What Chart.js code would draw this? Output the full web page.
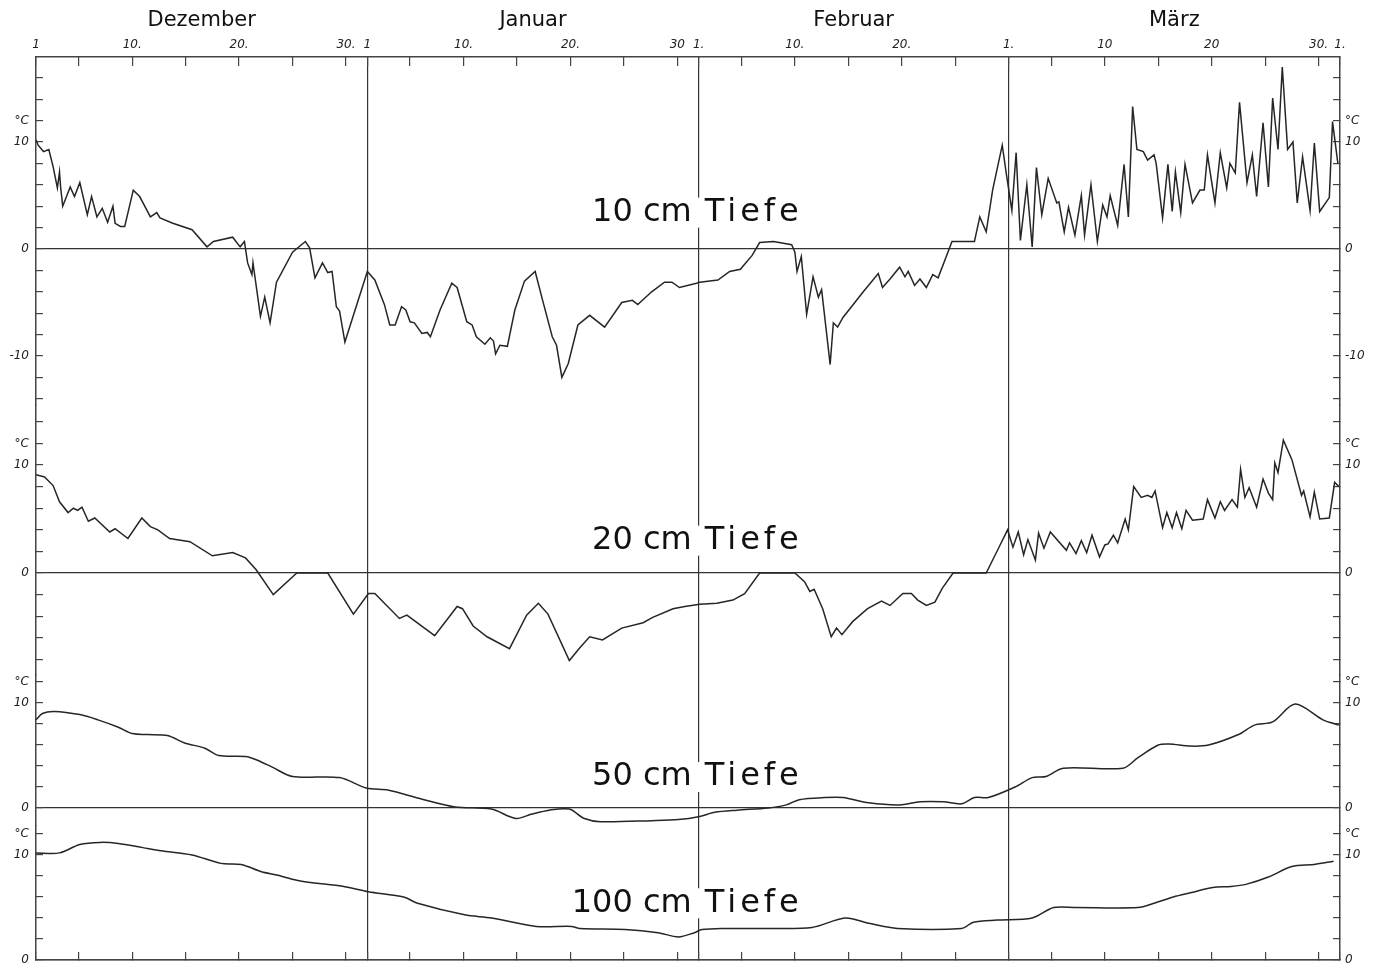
<!DOCTYPE html>
<html>
<head>
<meta charset="utf-8">
<script src="https://cdn.jsdelivr.net/npm/chart.js@4.4.0/dist/chart.umd.min.js"></script>
<style>
  html, body { margin: 0; background: #fff; }
  canvas { display: block; }
</style>
</head>
<body>
<canvas id="bodenChart" width="1373" height="968"></canvas>
<script>
// Bodentemperatur, Tage ab 1. Dezember (0 = 1.12., 122 = 1.4.), Werte in °C
const tiefe10 = [[0,10.2],[0.2,9.7],[0.7,9.1],[1.2,9.3],[1.6,7.7],[2.0,5.7],[2.2,7.2],[2.3,5.8],[2.5,4.0],[3.2,5.8],[3.6,4.9],[4.1,6.2],[4.8,3.2],[5.2,4.9],[5.7,3.0],[6.2,3.8],[6.7,2.5],[7.2,4.0],[7.4,2.4],[7.9,2.1],[8.3,2.1],[9.1,5.5],[9.7,4.9],[10.7,3.0],[11.3,3.4],[11.6,2.9],[12.8,2.4],[14.6,1.8],[16.0,0.2],[16.6,0.7],[18.4,1.1],[19.1,0.2],[19.5,0.7],[19.8,-1.3],[20.2,-2.4],[20.3,-1.3],[21.0,-6.3],[21.4,-4.5],[21.9,-6.9],[22.5,-3.1],[24.0,-0.3],[25.2,0.7],[25.6,0.1],[26.1,-2.7],[26.8,-1.3],[27.3,-2.2],[27.7,-2.1],[28.1,-5.4],[28.4,-5.8],[28.9,-8.7],[31.0,-2.1],[31.7,-2.9],[32.6,-5.2],[33.1,-7.1],[33.6,-7.1],[34.2,-5.4],[34.6,-5.7],[35.0,-6.8],[35.4,-6.9],[36.1,-7.9],[36.6,-7.8],[36.9,-8.2],[37.8,-5.7],[38.9,-3.2],[39.4,-3.6],[40.3,-6.8],[40.8,-7.1],[41.2,-8.2],[42.0,-8.9],[42.5,-8.3],[42.8,-8.6],[43.0,-9.8],[43.4,-9.0],[44.1,-9.1],[44.8,-5.7],[45.7,-3.0],[46.7,-2.1],[47.4,-4.8],[48.3,-8.2],[48.7,-9.0],[49.2,-12.0],[49.8,-10.7],[50.7,-7.1],[51.8,-6.2],[53.2,-7.3],[54.8,-5.0],[55.8,-4.8],[56.3,-5.2],[57.6,-4.0],[58.8,-3.1],[59.5,-3.1],[60.2,-3.6],[61.8,-3.2],[62.1,-3.1],[63.8,-2.9],[64.9,-2.1],[65.9,-1.9],[67.0,-0.6],[67.7,0.6],[69.0,0.7],[70.7,0.4],[71.0,-0.3],[71.2,-2.1],[71.6,-0.7],[72.1,-6.1],[72.7,-2.6],[73.2,-4.5],[73.5,-3.8],[74.3,-10.8],[74.6,-6.9],[75.0,-7.3],[75.5,-6.4],[77.4,-4.0],[78.8,-2.3],[79.2,-3.6],[79.9,-2.8],[80.8,-1.7],[81.3,-2.6],[81.6,-2.1],[82.2,-3.4],[82.7,-2.8],[83.3,-3.6],[83.9,-2.4],[84.4,-2.7],[85.7,0.7],[87.8,0.7],[88.3,3.0],[88.9,1.6],[89.5,5.5],[90.4,9.7],[90.8,6.9],[91.3,3.6],[91.7,9.0],[92.1,0.8],[92.7,6.0],[93.2,0.2],[93.6,7.6],[94.1,3.2],[94.7,6.6],[95.5,4.3],[95.7,4.4],[96.2,1.6],[96.6,3.9],[97.2,1.3],[97.8,5.0],[98.1,1.3],[98.7,6.0],[99.3,0.7],[99.8,4.1],[100.2,3.0],[100.5,5.0],[101.2,2.2],[101.8,7.9],[102.2,3.0],[102.6,13.3],[103.0,9.3],[103.6,9.1],[104.0,8.3],[104.6,8.8],[104.8,8.0],[105.4,2.9],[105.9,7.9],[106.3,3.5],[106.6,7.2],[107.1,3.4],[107.5,7.9],[108.2,4.3],[108.9,5.5],[109.3,5.5],[109.6,8.8],[110.3,4.3],[110.8,9.0],[111.4,5.7],[111.7,8.0],[112.2,7.1],[112.6,13.7],[113.3,6.2],[113.8,8.8],[114.2,4.9],[114.8,11.8],[115.3,5.8],[115.7,14.1],[116.2,9.3],[116.6,17.0],[117.1,9.3],[117.6,10.0],[118.0,4.3],[118.5,8.6],[119.2,3.6],[119.6,9.9],[120.1,3.5],[121.0,4.8],[121.3,11.9],[121.8,8.0]];

const tiefe20 = [[0,9.1],[0.8,8.9],[1.6,8.1],[2.2,6.6],[3.0,5.6],[3.5,6.0],[3.9,5.8],[4.3,6.1],[4.9,4.8],[5.5,5.1],[6.9,3.8],[7.4,4.1],[8.6,3.2],[9.9,5.1],[10.7,4.3],[11.4,4.0],[12.5,3.2],[14.4,2.9],[16.5,1.6],[18.4,1.9],[19.6,1.4],[20.6,0.3],[22.2,-2.0],[24.4,0],[27.3,0],[29.7,-3.8],[31.1,-1.9],[31.7,-1.9],[34.0,-4.2],[34.7,-3.9],[37.3,-5.8],[39.4,-3.1],[39.9,-3.3],[40.9,-4.9],[42.2,-5.9],[44.3,-7.0],[45.9,-3.9],[47.0,-2.8],[47.9,-3.8],[49.9,-8.1],[50.9,-6.9],[51.8,-5.9],[53.0,-6.2],[54.8,-5.1],[56.8,-4.6],[57.7,-4.1],[59.6,-3.3],[60.7,-3.1],[62.1,-2.9],[63.7,-2.8],[65.2,-2.5],[66.3,-1.9],[67.7,0],[71.0,0],[71.9,-0.8],[72.4,-1.7],[72.8,-1.5],[73.6,-3.3],[74.4,-5.9],[74.9,-5.1],[75.4,-5.7],[76.4,-4.5],[77.8,-3.3],[79.1,-2.6],[79.9,-3.0],[81.1,-1.9],[81.9,-1.9],[82.5,-2.5],[83.3,-3.0],[84.1,-2.7],[84.8,-1.4],[85.8,0],[88.9,0],[90.2,2.6],[90.9,4.0],[91.4,2.4],[91.9,3.8],[92.4,1.7],[92.8,3.1],[93.5,1.2],[93.8,3.7],[94.3,2.3],[94.9,3.8],[96.4,2.1],[96.7,2.8],[97.3,1.8],[97.8,3.0],[98.3,1.9],[98.8,3.5],[99.5,1.5],[100.0,2.6],[100.3,2.7],[100.8,3.5],[101.2,2.8],[101.9,5.0],[102.2,4.0],[102.7,8.0],[103.4,7.0],[104.0,7.2],[104.4,7.0],[104.7,7.6],[105.4,4.2],[105.8,5.6],[106.3,4.2],[106.7,5.6],[107.2,4.1],[107.6,5.8],[108.2,4.9],[109.2,5.0],[109.6,6.8],[110.3,5.1],[110.8,6.6],[111.2,5.8],[111.9,6.8],[112.4,6.1],[112.7,9.6],[113.1,7.0],[113.5,7.9],[114.2,6.1],[114.8,8.7],[115.3,7.4],[115.7,6.8],[115.9,10.2],[116.2,9.3],[116.7,12.3],[117.5,10.5],[118.4,7.2],[118.6,7.6],[119.2,5.2],[119.6,7.5],[120.1,5.0],[121.0,5.1],[121.5,8.4],[121.9,8.0]];

const tiefe50 = [[0,8.4],[0.6,9.0],[1.7,9.2],[4.1,8.9],[5.8,8.4],[7.7,7.7],[9.0,7.1],[10.4,7.0],[12.3,6.9],[13.9,6.2],[15.8,5.7],[17.1,5.0],[19.6,4.9],[20.6,4.6],[22.1,3.9],[24.0,3.0],[28.4,2.9],[30.9,1.9],[33.0,1.7],[35.9,0.9],[39.2,0.1],[42.6,-0.1],[44.9,-1.0],[46.3,-0.6],[48.0,-0.2],[49.9,-0.1],[51.3,-1.0],[52.8,-1.3],[57.6,-1.2],[60.1,-1.1],[62.1,-0.8],[63.5,-0.4],[65.6,-0.2],[68.5,0],[70.2,0.3],[71.4,0.8],[73.8,1.0],[75.5,1.0],[77.9,0.5],[80.8,0.3],[82.7,0.6],[84.9,0.6],[86.6,0.4],[87.8,1.0],[89.1,1.0],[91.6,2.0],[93.2,2.9],[94.5,3.0],[96.1,3.8],[101.7,3.8],[103.1,4.8],[105.0,6.0],[106.0,6.1],[108.0,5.9],[109.7,6.0],[112.5,7.0],[114.0,7.9],[115.7,8.2],[117.8,9.9],[120.4,8.4],[121.9,7.9]];

const tiefe100 = [[0,10.2],[2.2,10.2],[4.1,11.0],[6.0,11.2],[7.7,11.1],[10.0,10.7],[11.7,10.4],[14.6,10.0],[17.3,9.2],[19.2,9.1],[21.1,8.4],[22.5,8.1],[24.4,7.6],[26.3,7.3],[28.8,7.0],[31.1,6.5],[34.4,6.0],[35.7,5.4],[40.1,4.3],[42.6,4.0],[46.8,3.2],[50.1,3.2],[50.9,3.0],[55.1,2.9],[58.2,2.6],[60.1,2.2],[61.6,2.6],[62.3,2.9],[64.4,3.0],[68.5,3.0],[72.6,3.1],[75.7,4.0],[77.9,3.5],[80.6,3.0],[86.6,3.0],[87.7,3.6],[89.9,3.8],[93.2,4.0],[95.2,5.0],[97.3,5.0],[103.1,5.0],[104.6,5.4],[106.4,6.0],[108.0,6.4],[110.1,6.9],[111.8,7.0],[113.2,7.2],[115.3,7.9],[117.5,8.9],[119.6,9.1],[121.4,9.4]];

// Achsen
const monate = ['Dezember', 'Januar', 'Februar', 'März'];
const monatsMitte = [15.5, 46.5, 76.5, 106.5];
const monatsGrenzen = [31, 62, 91];
const tickTage = [0, 4, 9, 14, 19, 24, 29, 31, 35, 40, 45, 50, 55, 60, 62, 66, 71, 76, 81, 86, 91, 95, 100, 105, 110, 115, 120, 122];
const tickTexte = ['1', '', '10.', '', '20.', '', '30.', '1', '', '10.', '', '20.', '', '30', '1.', '', '10.', '', '20.', '', '1.', '', '10', '', '20', '', '30.', '1.'];

// Feldaufteilung von oben nach unten: [min, max, erster Tick, letzter Tick, Höhe]
const felder = {
  t10:  [-14.58, 17.94, -14, 16, 348],
  t20:  [-9.44, 15.56, -8, 14, 270],
  t50:  [-1.71, 12.67, 0, 12, 151],
  t100: [0, 12.76, 0, 12, 134]
};
const beschriftung = [['t10', 3.4, '10 cm'], ['t20', 3.0, '20 cm'], ['t50', 2.95, '50 cm'], ['t100', 5.4, '100 cm']];

const linie = '#262626';
const achse = '#444';
const transparent = 'rgba(0,0,0,0)';

function schritte(a, b) {
  const out = [];
  for (let v = a; v <= b; v += 2) out.push({ value: v });
  return out;
}

function yText(v) {
  if (v === 12) return '°C';
  if (v === 10 || v === 0 || v === -10) return String(v);
  return '';
}

function yAchse(key, seite) {
  const f = felder[key];
  return {
    type: 'linear',
    position: seite,
    stack: seite,
    stackWeight: f[4],
    min: f[0],
    max: f[1],
    afterBuildTicks: s => { s.ticks = schritte(f[2], f[3]); },
    afterFit: s => {
      s.width = seite === 'left' ? 36 : 33;
      s.paddingTop = 0;
      s.paddingBottom = 0;
    },
    ticks: {
      callback: v => yText(v),
      autoSkip: false,
      padding: seite === 'left' ? 14 : 12,
      color: '#222',
      font: { family: 'DejaVu Sans', size: 12, style: 'italic' }
    },
    grid: {
      color: c => (seite === 'left' && c.tick && c.tick.value === 0) ? '#333' : transparent,
      tickColor: achse,
      tickLength: -7,
      lineWidth: 1.2
    },
    border: { display: true, color: achse, width: 1.5 }
  };
}

const tiefeText = {
  id: 'tiefeText',
  afterDatasetsDraw(chart) {
    const ctx = chart.ctx;
    const xc = chart.scales.x.getPixelForValue(62);
    ctx.save();
    ctx.font = '32px "DejaVu Sans"';
    ctx.textBaseline = 'middle';
    beschriftung.forEach(([key, wert, text]) => {
      const y = chart.scales['y' + key].getPixelForValue(wert);
      ctx.fillStyle = '#fff';
      ctx.fillRect(xc - 6, y - 15, 12, 30);
      ctx.fillStyle = '#111';
      ctx.letterSpacing = '0px';
      ctx.textAlign = 'right';
      ctx.fillText(text, xc - 7, y);
      ctx.letterSpacing = '4px';
      ctx.textAlign = 'left';
      ctx.fillText('Tiefe', xc + 6, y);
    });
    ctx.restore();
  }
};

function xFit(h) {
  return s => {
    s.height = h;
    s.paddingLeft = 0;
    s.paddingRight = 0;
  };
}

const scales = {
  x: {
    type: 'linear',
    position: 'bottom',
    min: 0,
    max: 122,
    afterBuildTicks: s => { s.ticks = tickTage.map(v => ({ value: v })); },
    afterFit: xFit(8),
    ticks: { display: false, autoSkip: false },
    grid: {
      color: c => (c.tick && monatsGrenzen.includes(c.tick.value)) ? '#333' : transparent,
      tickColor: achse,
      tickLength: -8,
      lineWidth: 1.2
    },
    border: { display: true, color: achse, width: 1.5 }
  },
  xTage: {
    type: 'linear',
    position: 'top',
    weight: 0,
    min: 0,
    max: 122,
    afterBuildTicks: s => { s.ticks = tickTage.map(v => ({ value: v })); },
    afterFit: xFit(22),
    ticks: {
      callback: (v, i) => tickTexte[i],
      autoSkip: false,
      maxRotation: 0,
      padding: 14,
      color: '#222',
      font: { family: 'DejaVu Sans', size: 12, style: 'italic' }
    },
    grid: { drawOnChartArea: false, tickColor: achse, tickLength: -9, lineWidth: 1.2 },
    border: { display: true, color: achse, width: 1.5 }
  },
  xMonate: {
    type: 'linear',
    position: 'top',
    weight: 1,
    min: 0,
    max: 122,
    afterBuildTicks: s => { s.ticks = monatsMitte.map(v => ({ value: v })); },
    afterFit: xFit(35),
    ticks: {
      callback: (v, i) => monate[i],
      autoSkip: false,
      maxRotation: 0,
      padding: 2,
      color: '#111',
      font: { family: 'DejaVu Sans', size: 21 }
    },
    grid: { display: false, drawTicks: false },
    border: { display: false }
  }
};

// linke Achsen werden in umgekehrter Reihenfolge gestapelt
const feldNamen = Object.keys(felder);
feldNamen.slice().reverse().forEach(key => { scales['y' + key] = yAchse(key, 'left'); });
feldNamen.forEach(key => { scales['r' + key] = yAchse(key, 'right'); });

function reihe(punkte, key, glatt) {
  return {
    data: punkte.map(([x, y]) => ({ x: x, y: y })),
    xAxisID: 'x',
    yAxisID: 'y' + key,
    borderColor: linie,
    borderWidth: 1.5,
    pointRadius: 0,
    tension: glatt ? 0.3 : 0,
    fill: false
  };
}

new Chart(document.getElementById('bodenChart').getContext('2d'), {
  type: 'line',
  data: {
    datasets: [
      reihe(tiefe10, 't10', false),
      reihe(tiefe20, 't20', false),
      reihe(tiefe50, 't50', true),
      reihe(tiefe100, 't100', true)
    ]
  },
  options: {
    responsive: false,
    animation: false,
    events: [],
    layout: { padding: 0 },
    plugins: {
      legend: { display: false },
      tooltip: { enabled: false }
    },
    scales: scales
  },
  plugins: [tiefeText]
});
</script>
</body>
</html>
